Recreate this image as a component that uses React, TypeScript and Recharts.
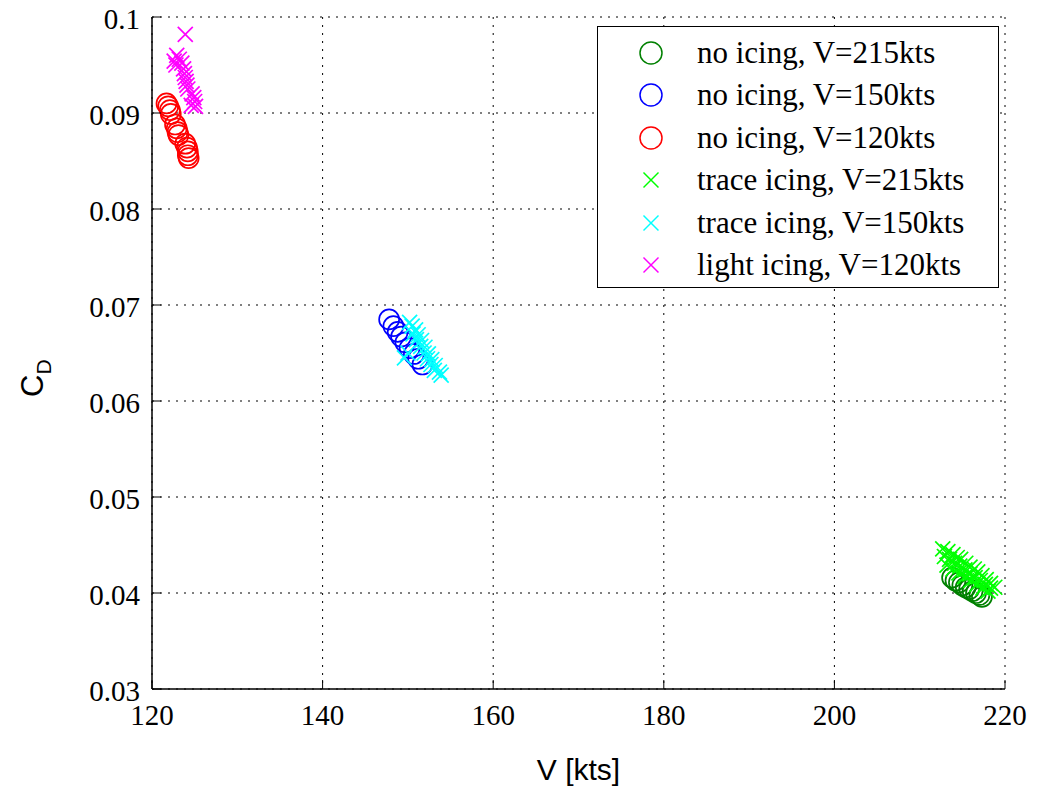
import React from 'react';
import { ScatterChart, Scatter, XAxis, YAxis, CartesianGrid, Legend } from 'recharts';

// ---------- data ----------
const xTicks = [120, 140, 160, 180, 200, 220];
const yTicks = [0.03, 0.04, 0.05, 0.06, 0.07, 0.08, 0.09, 0.1];
const xDomain = [120, 220];
const yDomain = [0.03, 0.1];

const noIcing215 = [
  { v: 213.8, cd: 0.0416 }, { v: 214.2, cd: 0.0413 }, { v: 214.6, cd: 0.0411 },
  { v: 215.0, cd: 0.0408 }, { v: 215.4, cd: 0.0406 }, { v: 215.8, cd: 0.0404 },
  { v: 216.2, cd: 0.0402 }, { v: 216.6, cd: 0.04 }, { v: 217.0, cd: 0.0398 },
  { v: 217.3, cd: 0.0396 },
];
const noIcing150 = [
  { v: 147.8, cd: 0.0685 }, { v: 148.3, cd: 0.0678 }, { v: 148.8, cd: 0.0672 },
  { v: 149.2, cd: 0.0667 }, { v: 149.7, cd: 0.0661 }, { v: 150.2, cd: 0.0655 },
  { v: 150.7, cd: 0.0649 }, { v: 151.2, cd: 0.0644 }, { v: 151.7, cd: 0.0638 },
];
const noIcing120 = [
  { v: 121.7, cd: 0.091 }, { v: 121.9, cd: 0.0907 }, { v: 122.1, cd: 0.0903 },
  { v: 122.2, cd: 0.0899 }, { v: 122.7, cd: 0.0888 }, { v: 122.9, cd: 0.0884 },
  { v: 123.0, cd: 0.088 }, { v: 123.1, cd: 0.0877 }, { v: 123.9, cd: 0.0868 },
  { v: 124.1, cd: 0.0864 }, { v: 124.2, cd: 0.086 }, { v: 124.2, cd: 0.0856 },
  { v: 124.3, cd: 0.0853 },
];
const trace215 = [
  { v: 212.7, cd: 0.0446 }, { v: 213.3, cd: 0.0443 }, { v: 213.9, cd: 0.044 },
  { v: 214.4, cd: 0.0437 }, { v: 214.8, cd: 0.0435 }, { v: 215.4, cd: 0.0431 },
  { v: 215.9, cd: 0.0427 }, { v: 216.4, cd: 0.0425 }, { v: 216.8, cd: 0.0422 },
  { v: 217.3, cd: 0.0418 }, { v: 217.8, cd: 0.0414 }, { v: 218.3, cd: 0.041 },
  { v: 218.8, cd: 0.0406 },
  { v: 212.9, cd: 0.0438 }, { v: 213.5, cd: 0.0435 }, { v: 214.1, cd: 0.0431 },
  { v: 214.7, cd: 0.0428 }, { v: 215.3, cd: 0.0424 }, { v: 215.9, cd: 0.042 },
  { v: 216.5, cd: 0.0416 }, { v: 217.1, cd: 0.0413 }, { v: 217.7, cd: 0.0409 },
  { v: 218.3, cd: 0.0405 },
  { v: 213.2, cd: 0.0429 }, { v: 213.9, cd: 0.0425 }, { v: 214.6, cd: 0.0421 },
  { v: 215.3, cd: 0.0417 }, { v: 216.0, cd: 0.0413 }, { v: 216.7, cd: 0.0409 },
  { v: 217.4, cd: 0.0405 }, { v: 218.0, cd: 0.0402 },
];
const trace150 = [
  { v: 150.2, cd: 0.0682 }, { v: 150.5, cd: 0.0678 }, { v: 150.9, cd: 0.0674 },
  { v: 150.6, cd: 0.067 }, { v: 151.2, cd: 0.0669 }, { v: 151.0, cd: 0.0664 },
  { v: 151.6, cd: 0.0663 }, { v: 151.5, cd: 0.0657 }, { v: 152.0, cd: 0.0656 },
  { v: 151.9, cd: 0.065 }, { v: 152.4, cd: 0.0649 }, { v: 152.3, cd: 0.0644 },
  { v: 152.8, cd: 0.0643 }, { v: 152.7, cd: 0.0638 }, { v: 153.2, cd: 0.0637 },
  { v: 153.1, cd: 0.0632 }, { v: 153.7, cd: 0.063 }, { v: 149.6, cd: 0.0645 },
  { v: 150.0, cd: 0.065 }, { v: 153.9, cd: 0.0627 },
];
const light120 = [
  { v: 123.9, cd: 0.0982 }, { v: 122.9, cd: 0.096 }, { v: 122.6, cd: 0.0954 },
  { v: 123.2, cd: 0.0956 }, { v: 122.8, cd: 0.095 }, { v: 123.5, cd: 0.0952 },
  { v: 123.7, cd: 0.0946 }, { v: 123.8, cd: 0.0941 }, { v: 123.9, cd: 0.0937 },
  { v: 124.0, cd: 0.0933 }, { v: 124.1, cd: 0.0929 }, { v: 124.2, cd: 0.0925 },
  { v: 124.7, cd: 0.092 }, { v: 124.9, cd: 0.0916 }, { v: 125.0, cd: 0.0912 },
  { v: 124.6, cd: 0.0908 }, { v: 125.1, cd: 0.0907 },
];

const seriesNames = [
  'no icing, V=215kts',
  'no icing, V=150kts',
  'no icing, V=120kts',
  'trace icing, V=215kts',
  'trace icing, V=150kts',
  'light icing, V=120kts',
];
const seriesColors = ['#008000', '#0000ff', '#ff0000', '#00ff00', '#00ffff', '#ff00ff'];
const seriesMarkers = ['o', 'o', 'o', 'x', 'x', 'x'];
const seriesData = [noIcing215, noIcing150, noIcing120, trace215, trace150, light120];

// ---------- styling ----------
const SERIF = '"Liberation Serif", "Times New Roman", Times, serif';
const SANS = '"Liberation Sans", Arial, Helvetica, sans-serif';
const TICK_LEN = 9;
const TICK_FONT = 29;

const BottomTick = (props: any) => {
  const { x, y, payload } = props;
  return (
    <g>
      <line x1={x} y1={y} x2={x} y2={y - TICK_LEN} stroke="#000" strokeWidth={1} />
      <text x={x} y={y + 36} textAnchor="middle" style={{ fontFamily: SERIF, fontSize: TICK_FONT }} fill="#000">
        {String(payload.value)}
      </text>
    </g>
  );
};
const LeftTick = (props: any) => {
  const { x, y, payload } = props;
  return (
    <g>
      <line x1={x} y1={y} x2={x + TICK_LEN} y2={y} stroke="#000" strokeWidth={1} />
      <text x={x - 12} y={y + 12} textAnchor="end" style={{ fontFamily: SERIF, fontSize: TICK_FONT }} fill="#000">
        {String(payload.value)}
      </text>
    </g>
  );
};
const TopTick = (props: any) => {
  const { x, y } = props;
  return <line x1={x} y1={y} x2={x} y2={y + TICK_LEN} stroke="#000" strokeWidth={1} />;
};
const RightTick = (props: any) => {
  const { x, y } = props;
  return <line x1={x} y1={y} x2={x - TICK_LEN} y2={y} stroke="#000" strokeWidth={1} />;
};

const XLabel = (props: any) => {
  const vb = props.viewBox || { x: 152, y: 689, width: 853, height: 60 };
  return (
    <text x={vb.x + vb.width / 2} y={vb.y + 91} textAnchor="middle" style={{ fontFamily: SANS, fontSize: 30 }} fill="#000">
      V [kts]
    </text>
  );
};
const YLabel = (props: any) => {
  const vb = props.viewBox || { x: 72, y: 17, width: 80, height: 672 };
  const tx = vb.x - 29;
  const ty = vb.y + vb.height / 2 + 44;
  return (
    <text x={tx} y={ty} transform={`rotate(-90 ${tx} ${ty})`} textAnchor="start" style={{ fontFamily: SANS, fontSize: 31 }} fill="#000">
      C<tspan dy={8} style={{ fontSize: 21 }}>D</tspan>
    </text>
  );
};

const circleShape = (color: string) => (p: any) => (
  <circle cx={p.cx} cy={p.cy} r={10} fill="none" stroke={color} strokeWidth={1.7} />
);
const crossShape = (color: string) => (p: any) => (
  <g>
    <line x1={p.cx - 7.5} y1={p.cy - 7.5} x2={p.cx + 7.5} y2={p.cy + 7.5} stroke={color} strokeWidth={1.7} />
    <line x1={p.cx - 7.5} y1={p.cy + 7.5} x2={p.cx + 7.5} y2={p.cy - 7.5} stroke={color} strokeWidth={1.7} />
  </g>
);

const LegendBox = () => (
  <div
    style={{
      width: 402,
      height: 262,
      boxSizing: 'border-box',
      border: '1.5px solid #000',
      background: '#fff',
      paddingTop: 5,
    }}
  >
    {seriesNames.map((name, i) => (
      <div key={name} style={{ position: 'relative', height: 42.4 }}>
        <svg width={30} height={30} style={{ position: 'absolute', left: 38, top: 6 }}>
          {seriesMarkers[i] === 'o' ? (
            <circle cx={15} cy={15} r={11} fill="none" stroke={seriesColors[i]} strokeWidth={1.5} />
          ) : (
            <g>
              <line x1={7.5} y1={7.5} x2={22.5} y2={22.5} stroke={seriesColors[i]} strokeWidth={1.5} />
              <line x1={7.5} y1={22.5} x2={22.5} y2={7.5} stroke={seriesColors[i]} strokeWidth={1.5} />
            </g>
          )}
        </svg>
        <span
          style={{
            position: 'absolute',
            left: 99,
            top: 0,
            lineHeight: '42px',
            fontFamily: SERIF,
            fontSize: 31,
            color: '#000',
            whiteSpace: 'nowrap',
          }}
        >
          {name}
        </span>
      </div>
    ))}
  </div>
);

export default function App() {
  return (
    <div style={{ position: 'absolute', left: 0, top: 0, width: 1039, height: 790, background: '#fff' }}>
      <ScatterChart width={1039} height={790} margin={{ top: 17, right: 34, bottom: 41, left: 72 }}>
        <CartesianGrid stroke="#000" strokeDasharray="2 6" strokeWidth={1} />
        <XAxis
          dataKey="v"
          type="number"
          domain={xDomain}
          ticks={xTicks}
          interval={0}
          height={60}
          tickSize={0}
          tickMargin={0}
          tickLine={false}
          tick={<BottomTick />}
          axisLine={{ stroke: '#000', strokeWidth: 1.5 }}
          allowDataOverflow
          label={<XLabel />}
        />
        <YAxis
          dataKey="cd"
          type="number"
          domain={yDomain}
          ticks={yTicks}
          interval={0}
          width={80}
          tickSize={0}
          tickMargin={0}
          tickLine={false}
          tick={<LeftTick />}
          axisLine={{ stroke: '#000', strokeWidth: 1.5 }}
          allowDataOverflow
          label={<YLabel />}
        />
        <XAxis
          xAxisId="top"
          orientation="top"
          type="number"
          domain={xDomain}
          ticks={xTicks}
          interval={0}
          height={0}
          tickSize={0}
          tickMargin={0}
          tickLine={false}
          tick={<TopTick />}
          axisLine={{ stroke: '#000', strokeWidth: 1.5 }}
          allowDataOverflow
        />
        <YAxis
          yAxisId="right"
          orientation="right"
          type="number"
          domain={yDomain}
          ticks={yTicks}
          interval={0}
          width={0}
          tickSize={0}
          tickMargin={0}
          tickLine={false}
          tick={<RightTick />}
          axisLine={{ stroke: '#000', strokeWidth: 1.5 }}
          allowDataOverflow
        />
        <Scatter xAxisId="top" yAxisId="right" data={[]} isAnimationActive={false} legendType="none" />
        {seriesData.map((d, i) => (
          <Scatter
            key={seriesNames[i]}
            name={seriesNames[i]}
            data={d}
            fill={seriesColors[i]}
            isAnimationActive={false}
            shape={seriesMarkers[i] === 'o' ? circleShape(seriesColors[i]) : crossShape(seriesColors[i])}
          />
        ))}
        <Legend
          layout="horizontal"
          verticalAlign="middle"
          align="center"
          wrapperStyle={{ left: 597, top: 26, width: 402, height: 262 }}
          content={<LegendBox />}
        />
      </ScatterChart>
    </div>
  );
}
